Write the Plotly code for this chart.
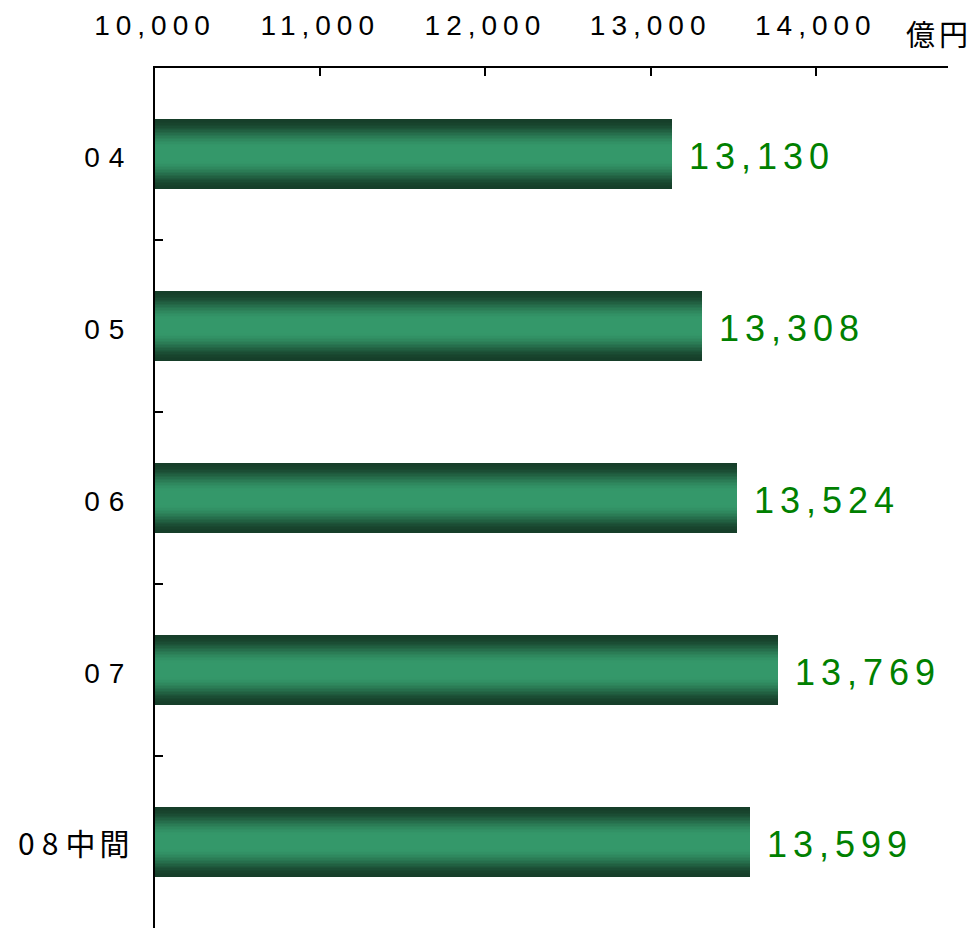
import plotly.graph_objects as go

categories = ["04", "05", "06", "07", "08中間"]
values = [13130, 13308, 13524, 13769, 13599]
tick_values = [10000, 11000, 12000, 13000, 14000]
tick_labels = ["10,000", "11,000", "12,000", "13,000", "14,000"]
unit_label = "億円"

FONT = "Liberation Sans, Arial, Noto Sans CJK JP, sans-serif"


def spaced(s, px):
    return f'<span style="letter-spacing:{px}px">{s}</span>'


def cat_label(c):
    digits = "".join(ch for ch in c if ch.isdigit())
    rest = c[len(digits):]
    if rest:
        return (f'<span style="font-family:Noto Sans CJK JP;font-size:30px">'
                f'<span style="letter-spacing:7px">{digits}</span>'
                f'<span style="letter-spacing:4px">{rest}</span></span>')
    return spaced(c, 9)


dark = (22, 62, 41)
light = (52, 152, 106)
BAR_W = 0.41
N = 24

fig = go.Figure()
for k in range(N):
    t = k / N
    f = min(1.0, t / 0.8)
    f = f * f * (3 - 2 * f)
    col = tuple(round(dark[i] + (light[i] - dark[i]) * f) for i in range(3))
    fig.add_trace(go.Bar(
        y=categories, x=[v - 10000 for v in values], base=10000,
        orientation="h", width=BAR_W * (1 - t),
        marker=dict(color=f"rgb{col}", line=dict(width=0)),
        hoverinfo="skip", showlegend=False,
    ))

for i, v in enumerate(values):
    fig.add_annotation(
        x=v, y=i, xref="x", yref="y", text=spaced(f"{v:,}", 6),
        showarrow=False, xanchor="left", yanchor="middle", xshift=15, yshift=-2,
        font=dict(family=FONT, size=36, color="#008000"),
    )

fig.add_annotation(
    x=1, y=1, xref="paper", yref="paper", text=spaced(unit_label, 4),
    showarrow=False, xanchor="right", yanchor="bottom", xshift=26, yshift=12,
    font=dict(family="Noto Sans CJK JP, " + FONT, size=29, color="#000000"),
)

fig.update_layout(
    width=971, height=928,
    margin=dict(l=155, r=23, t=68, b=0),
    paper_bgcolor="white", plot_bgcolor="white",
    barmode="overlay", bargap=0,
    xaxis=dict(
        side="top", range=[10000, 14800], tickvals=tick_values,
        ticktext=[spaced(s, 6) for s in tick_labels],
        ticks="inside", ticklen=8, tickwidth=2, tickcolor="black",
        showline=True, linecolor="black", linewidth=2, showgrid=False,
        zeroline=False, ticklabelstandoff=20,
        tickfont=dict(family=FONT, size=28, color="#000000"),
    ),
    yaxis=dict(
        type="category", categoryorder="array", categoryarray=categories,
        range=[len(categories) - 0.5, -0.5], autorange=False,
        tickvals=categories,
        ticktext=[cat_label(c) for c in categories],
        ticks="inside", ticklen=8, tickwidth=2, tickcolor="black",
        tickson="boundaries",
        showline=True, linecolor="black", linewidth=2, showgrid=False,
        zeroline=False, ticklabelstandoff=14, ticklabelshift=-3,
        tickfont=dict(family=FONT, size=28, color="#000000"),
    ),
)

fig.write_html(
    "out.html",
    config={"displayModeBar": False},
    post_script="document.body.style.margin='0px';",
)
